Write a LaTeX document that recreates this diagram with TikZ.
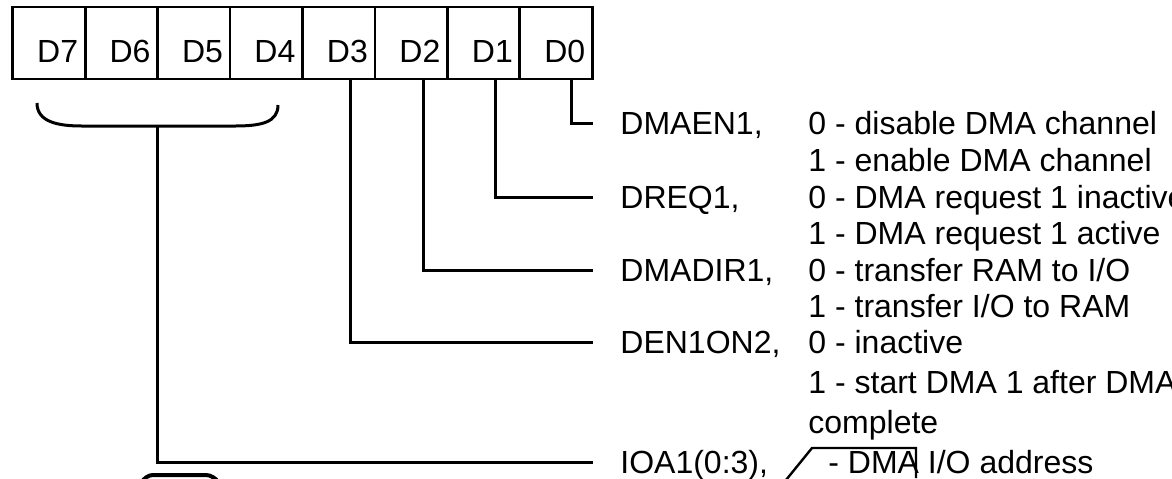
\documentclass[tikz,border=0pt]{standalone}
\usepackage{fontspec}
\setmainfont{Liberation Sans}
\begin{document}
\begin{tikzpicture}[x=0.5pt,y=-0.5pt,
  cell/.style={draw, minimum width=36.2pt, minimum height=36pt, inner sep=0pt, line width=1.4pt},
  bitlbl/.style={anchor=base east, inner sep=0pt, font=\fontsize{16pt}{19pt}\selectfont},
  txt/.style={anchor=base west, inner sep=0pt, font=\fontsize{16pt}{19pt}\selectfont},
  wire/.style={line width=1.5pt},
  scratch/.style={line width=1.2pt}]
\useasboundingbox (0,0) rectangle (1172,478);
\clip (0,0) rectangle (1172,478);

% register cells
\node[cell] (c7) at (48.9,43) {};
\node[cell] (c6) at (121.3,43) {};
\node[cell] (c5) at (193.8,43) {};
\node[cell] (c4) at (266.2,43) {};
\node[cell] (c3) at (338.7,43) {};
\node[cell] (c2) at (411.1,43) {};
\node[cell] (c1) at (483.6,43) {};
\node[cell] (c0) at (556.0,43) {};

\path (c7.east) ++(-8,19.5) node[bitlbl] (t7) {D7};
\path (c6.east) ++(-8,19.5) node[bitlbl] (t6) {D6};
\path (c5.east) ++(-8,19.5) node[bitlbl] (t5) {D5};
\path (c4.east) ++(-8,19.5) node[bitlbl] (t4) {D4};
\path (c3.east) ++(-8,19.5) node[bitlbl] (t3) {D3};
\path (c2.east) ++(-8,19.5) node[bitlbl] (t2) {D2};
\path (c1.east) ++(-8,19.5) node[bitlbl] (t1) {D1};
\path (c0.east) ++(-8,19.5) node[bitlbl] (t0) {D0};

% connector end points
\coordinate (e0) at (593,123);
\coordinate (e1) at (593,197);
\coordinate (e2) at (593,270);
\coordinate (e3) at (593,342);
\coordinate (e4) at (593,462);

% connectors
\draw[wire] ([xshift=7.5pt]c0.south) |- (e0);
\draw[wire] ([xshift=6pt]c1.south) |- (e1);
\draw[wire] ([xshift=6pt]c2.south) |- (e2);
\draw[wire] ([xshift=5.75pt]c3.south) |- (e3);

% brace for D7..D4
\coordinate (bl) at (37,103);
\coordinate (br) at (278,105);
\coordinate (bm) at (157.6,126);
\draw[wire] (bl) .. controls (37,122) and (58,126) .. (82,126) -- (235,126) .. controls (262,126) and (278,122) .. (br);
\draw[wire] (bm) |- (e4);

% field names
\node[txt] (n0) at (620,134.5) {DMAEN1,};
\node[txt] (n1) at (620,208.5) {DREQ1,};
\node[txt] (n2) at (620,281.5) {DMADIR1,};
\node[txt] (n3) at (620,353.5) {DEN1ON2,};
\node[txt] (n4) at (620,473.5) {IOA1(0:3),};

% descriptions
\node[txt] (d0a) at (808,134.5) {0 - disable DMA channel};
\node[txt] (d0b) at (808,171.5) {1 - enable DMA channel};
\node[txt] (d1a) at (808,208.5) {0 - DMA request 1 inactive};
\node[txt] (d1b) at (808,244.5) {1 - DMA request 1 active};
\node[txt] (d2a) at (808,281.5) {0 - transfer RAM to I/O};
\node[txt] (d2b) at (808,317.5) {1 - transfer I/O to RAM};
\node[txt] (d3a) at (808,353.5) {0 - inactive};
\node[txt] (d3b) at (808,393.5) {1 - start DMA 1 after DMA};
\node[txt] (d3c) at (808,433.5) {complete};
\node[txt] (d4) at (828,473.5) {- DMA I/O address};

% scan marks
\draw[scratch] (786,480) -- (812,448) -- (916,448) -- (916,478);
\draw[line width=2pt, rounded corners=4pt] (142,482) -- (145,475) -- (214,475) -- (218,482);
\end{tikzpicture}
\end{document}
